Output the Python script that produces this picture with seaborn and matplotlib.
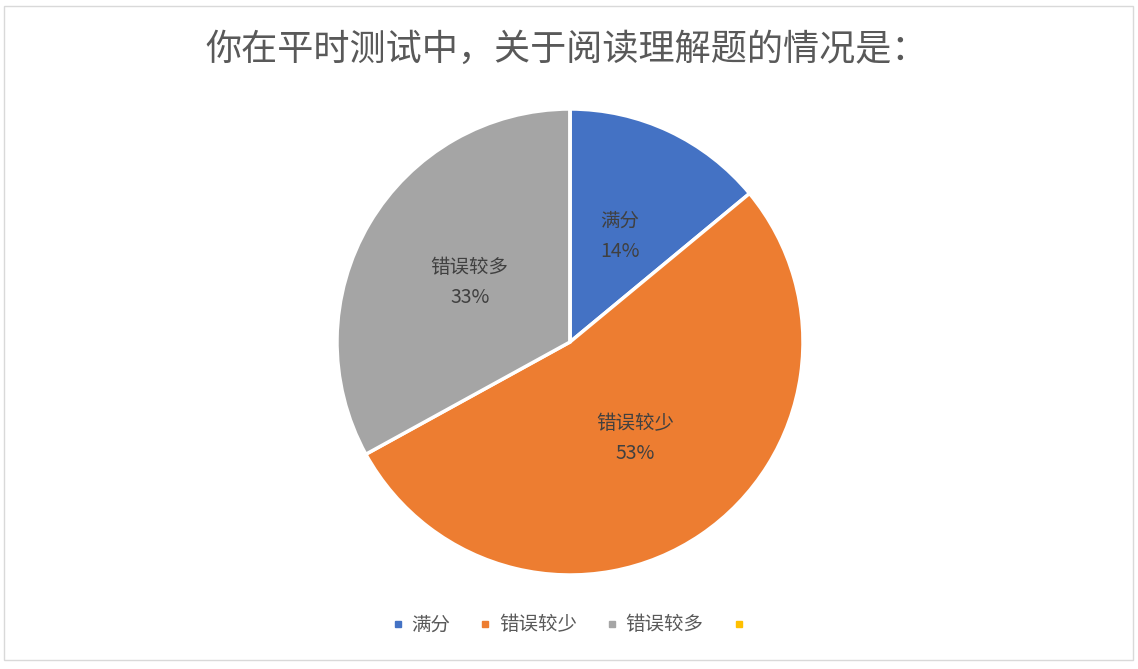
import matplotlib.pyplot as plt
import seaborn as sns
from matplotlib.lines import Line2D
from matplotlib.patches import Rectangle

TITLE = '你在平时测试中，关于阅读理解题的情况是：'
CATEGORIES = ['满分', '错误较少', '错误较多', '']
PERCENTS = [14, 53, 33, 0]
COLORS = ['#4472C4', '#ED7D31', '#A5A5A5', '#FFC000']

sns.set_theme(style='white')
plt.rcParams['font.family'] = ['Noto Sans CJK SC', 'DejaVu Sans']

W, H = 1138, 669
fig = plt.figure(figsize=(W / 100, H / 100), dpi=100)

# pie centre (570, 342) px, radius 233 px
cx, cy, r = 570, 342, 233
pad = 8
ax = fig.add_axes([(cx - r - pad) / W, (H - cy - r - pad) / H, 2 * (r + pad) / W, 2 * (r + pad) / H])

palette = sns.color_palette(COLORS)
labels = [f'{c}\n{p}%' if p > 0 else '' for c, p in zip(CATEGORIES, PERCENTS)]
wedges, texts = ax.pie(PERCENTS, labels=labels, colors=palette, startangle=90, counterclock=False,
                       labeldistance=0.5, wedgeprops={'edgecolor': 'white', 'linewidth': 2.5},
                       textprops={'fontsize': 14, 'color': '#404040', 'linespacing': 1.6,
                                  'ha': 'center', 'va': 'center'})
lim = (r + pad) / r
ax.set_xlim(-lim, lim)
ax.set_ylim(-lim, lim)
ax.set_aspect('auto')

handles = [Line2D([], [], marker='s', linestyle='', markersize=5, color=c) for c in palette]
fig.legend(handles, CATEGORIES, loc='center', bbox_to_anchor=(572 / W, 1 - 625 / H), ncol=4, frameon=False,
           fontsize=14, handlelength=0.6, handletextpad=0.4, columnspacing=1.5, labelcolor='#595959')

fig.text(567 / W, 1 - 50 / H, TITLE, ha='center', va='center', fontsize=26, color='#595959')

fig.patches.append(Rectangle((4 / W, 1 - 660 / H), 1129 / W, 654 / H, transform=fig.transFigure,
                             fill=False, edgecolor='#D9D9D9', linewidth=1))

fig.savefig('out.png', dpi=100, facecolor='white')
